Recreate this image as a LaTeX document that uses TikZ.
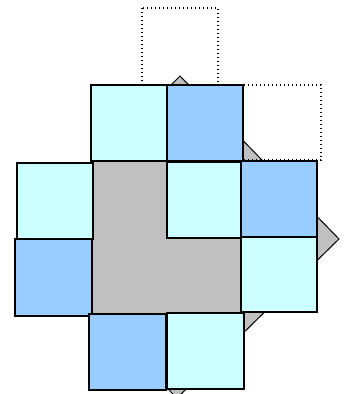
\documentclass[tikz,border=0pt]{standalone}
\definecolor{lcyan}{HTML}{CCFFFF}
\definecolor{lblue}{HTML}{99CCFF}
\definecolor{lgray}{HTML}{C0C0C0}
\begin{document}
\begin{tikzpicture}[x=1pt,y=-1pt,
  cyansq/.style={fill=lcyan,draw=black,line width=1.2pt},
  bluesq/.style={fill=lblue,draw=black,line width=1.2pt},
  graysh/.style={fill=lgray,draw=black,line width=1pt},
  ghost/.style={draw=black,dash pattern=on 1.3pt off 2.7pt,line width=1.3pt}]
\useasboundingbox (0,0) rectangle (346,394);
\begin{scope}
  \clip (0,0) rectangle (346,394);
  \draw[graysh] (180,76) -- (339,239) -- (177,398) -- (18,239) -- cycle;
\end{scope}
\fill[lgray] (93,162) rectangle (241,313);
% top row
\draw[cyansq] (91,85) rectangle (167,161);
\draw[bluesq] (167,85) rectangle (243,161);
% centre
\draw[cyansq] (167,162) rectangle (241,238);
% left column
\draw[cyansq] (17,163) rectangle (93,239);
\draw[bluesq] (15,239) rectangle (92,316);
% right column
\draw[bluesq] (241,161) rectangle (317,237);
\draw[cyansq] (241,237) rectangle (317,312);
% bottom row
\draw[bluesq] (89,314) rectangle (166,390);
\draw[cyansq] (167,313) rectangle (244,389);
% dotted outlines
\draw[ghost] (142,8) rectangle (218,85);
\draw[ghost] (243,85) rectangle (321,160);
\end{tikzpicture}
\end{document}
